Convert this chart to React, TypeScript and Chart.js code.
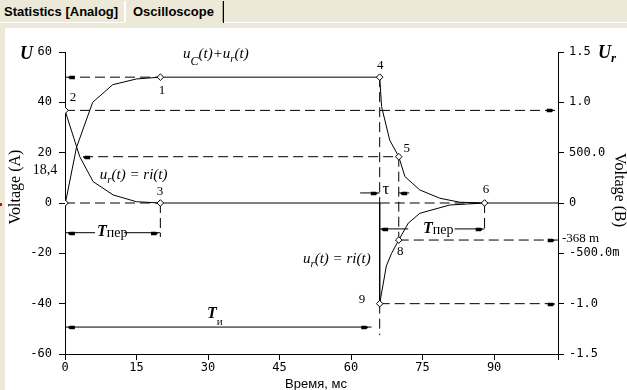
import React, { useEffect, useRef } from "react";
import { Chart, registerables } from "chart.js";

Chart.register(...registerables);

// ---------- axes ----------
const xMin = 0;
const xMax = 103.4;
const xStep = 15;
const yLeftTicks = [60, 40, 20, 0, -20, -40, -60];
const yRightTickValues = [1.5, 1, 0.5, 0, -0.5, -1, -1.5];
const yRightTickLabels = ["1.5", "1.0", "500.0", "0", "-500.0m", "-1.0", "-1.5"];

// ---------- u_C(t)+u_r(t) ----------
const sumT = [0, 0.3, 2.4, 5.8, 10, 15, 20, 66, 66.4, 68.1, 70, 71.3, 74.4, 78.6, 82.8, 88, 103.4];
const sumU = [0, 2, 22, 40, 47, 49.3, 50, 50, 38.3, 25, 18.4, 10.5, 5.2, 1.9, 0.3, 0, 0];

// ---------- u_r(t) = ri(t) ----------
const urT = [0, 3.1, 5.9, 10.1, 15, 20, 66, 66, 67.4, 68.5, 70, 72, 74.4, 80.7, 88];
const urU = [36.8, 18.4, 8.5, 3.2, 0.5, 0, 0, -40, -25, -20, -14.72, -8, -4.1, -0.8, 0];

// ---------- marked points (diamonds) ----------
const markT = [0, 0, 20, 20, 66, 70, 88, 70, 66];
const markU = [0, 36.8, 50, 0, 50, 18.4, 0, -14.72, -40];
const markLabels = ["", "2", "1", "3", "4", "5", "6", "8", "9"];

// ---------- dashed guide lines [t1, u1, t2, u2] ----------
const dashedLines = [
  [0, 50, 20, 50],
  [0, 36.8, 103.4, 36.8],
  [3.8, 18.4, 70, 18.4],
  [0, 0, 20, 0],
  [66, 0, 88, 0],
  [70, -14.72, 103.4, -14.72],
  [66, -40, 103.4, -40],
  [20, 0, 20, -13.5],
  [66, 50, 66, 0],
  [66, -40, 66, -52.5],
  [70, 18.4, 70, -14.72],
  [88, 0, 88, -12],
];

// ---------- solid dimension lines [t1, u1, t2, u2] ----------
const dimLines = [
  [0, -11.8, 6.3, -11.8],
  [12.4, -11.8, 20, -11.8],
  [66, -10.3, 72, -10.3],
  [81.7, -10.3, 88, -10.3],
  [0, -49.3, 64.3, -49.3],
  [61.9, 4, 66, 4],
  [70, 4, 72.2, 4],
];

// ---------- arrow heads [t, u, direction] ----------
const arrowHeads = [
  [0.6, 50, -1],
  [3.8, 18.4, -1],
  [102.5, 36.8, 1],
  [102.7, -14.72, 1],
  [102.7, -40, 1],
  [0.6, -11.8, -1],
  [19.5, -11.8, 1],
  [66.3, -10.3, -1],
  [87.6, -10.3, 1],
  [0.6, -49.3, -1],
  [63.6, -49.3, 1],
  [65.6, 4, 1],
  [70.3, 4, -1],
];

const SERIF = '"Liberation Serif", "Times New Roman", serif';
const MONO = '"DejaVu Sans Mono", monospace';

type Run = { text: string; font: string; dy?: number };

function drawRuns(ctx: CanvasRenderingContext2D, x: number, y: number, runs: Run[]) {
  let cx = x;
  for (const r of runs) {
    ctx.font = r.font;
    ctx.fillText(r.text, cx, y + (r.dy || 0));
    cx += ctx.measureText(r.text).width;
  }
}

const it15 = `italic 15px ${SERIF}`;
const it11 = `italic 11px ${SERIF}`;

const annotationPlugin = {
  id: "annotations",
  afterDraw(chart: any) {
    const ctx: CanvasRenderingContext2D = chart.ctx;
    const xs = chart.scales.x;
    const ys = chart.scales.y;
    const X = (v: number) => xs.getPixelForValue(v);
    const Y = (v: number) => ys.getPixelForValue(v);
    const area = chart.chartArea;
    ctx.save();
    ctx.fillStyle = "#000";

    // arrow heads
    for (const [t, u, d] of arrowHeads) {
      const px = X(t);
      const py = Math.round(Y(u)) + 0.5;
      ctx.beginPath();
      ctx.moveTo(px, py);
      ctx.lineTo(px - d * 2, py - 1.8);
      ctx.lineTo(px - d * 7, py - 1.8);
      ctx.lineTo(px - d * 7, py + 1.8);
      ctx.lineTo(px - d * 2, py + 1.8);
      ctx.closePath();
      ctx.fill();
    }

    // point numbers
    ctx.textAlign = "center";
    ctx.textBaseline = "middle";
    ctx.font = `13px ${SERIF}`;
    const numOffsets: Record<string, [number, number]> = {
      "1": [0.35, -5.5],
      "2": [1.7, 4.9],
      "3": [-0.1, 4.4],
      "4": [0.1, 4.8],
      "5": [1.7, 3.1],
      "6": [0.3, 5.2],
      "8": [0.3, -4.4],
      "9": [-3.7, 1.5],
    };
    markLabels.forEach((lab, i) => {
      if (!lab) return;
      const o = numOffsets[lab];
      ctx.fillText(lab, X(markT[i] + o[0]), Y(markU[i] + o[1]));
    });

    // 18,4
    ctx.textAlign = "right";
    ctx.font = `14px ${SERIF}`;
    ctx.fillText("18,4", X(-1.6), Y(13.1));

    // -368 m near right axis
    ctx.textAlign = "left";
    ctx.font = `13px ${SERIF}`;
    ctx.fillText("-368 m", area.right + 4, Y(-14.3));

    // tau
    ctx.textAlign = "center";
    ctx.font = `17px ${SERIF}`;
    ctx.fillText("τ", X(67.3), Y(5.2));

    // rich labels
    ctx.textAlign = "left";
    ctx.textBaseline = "alphabetic";
    drawRuns(ctx, X(24.75), Y(57.6), [
      { text: "u", font: it15 },
      { text: "C", font: `italic 12px ${SERIF}`, dy: 7 },
      { text: "(t)+", font: it15 },
      { text: "u", font: it15 },
      { text: "r", font: it11, dy: 4 },
      { text: "(t)", font: it15 },
    ]);
    drawRuns(ctx, X(7.3), Y(9.5), [
      { text: "u", font: it15 },
      { text: "r", font: it11, dy: 4 },
      { text: "(t) = ri(t)", font: it15 },
    ]);
    drawRuns(ctx, X(49.9), Y(-23.8), [
      { text: "u", font: it15 },
      { text: "r", font: it11, dy: 4 },
      { text: "(t) = ri(t)", font: it15 },
    ]);
    drawRuns(ctx, X(6.7), Y(-13.3), [
      { text: "T", font: `bold italic 16px ${SERIF}` },
      { text: "пер", font: `14px ${SERIF}`, dy: 1 },
    ]);
    drawRuns(ctx, X(75.1), Y(-11.9), [
      { text: "T", font: `bold italic 16px ${SERIF}` },
      { text: "пер", font: `14px ${SERIF}`, dy: 1 },
    ]);
    drawRuns(ctx, X(29.8), Y(-45.7), [
      { text: "T", font: `bold italic 16px ${SERIF}` },
      { text: "и", font: `11px ${SERIF}`, dy: 7 },
    ]);

    // axis symbols
    drawRuns(ctx, area.left - 45, area.top + 7, [{ text: "U", font: `bold italic 18px ${SERIF}` }]);
    drawRuns(ctx, area.right + 40, area.top + 6, [
      { text: "U", font: `bold italic 18px ${SERIF}` },
      { text: "r", font: `bold italic 13px ${SERIF}`, dy: 4 },
    ]);

    // axis titles
    ctx.font = `16px ${SERIF}`;
    ctx.textAlign = "center";
    ctx.textBaseline = "middle";
    ctx.save();
    ctx.translate(11, 159);
    ctx.rotate(-Math.PI / 2);
    ctx.fillText("Voltage (A)", 0, 0);
    ctx.restore();
    ctx.save();
    ctx.translate(614, 162);
    ctx.rotate(Math.PI / 2);
    ctx.fillText("Voltage (B)", 0, 0);
    ctx.restore();

    ctx.font = `13px "Liberation Sans", Arial, sans-serif`;
    ctx.textBaseline = "alphabetic";
    ctx.fillText("Время, мс", 311, 360);

    ctx.restore();
  },
};

function lineDataset(points: { x: number; y: number }[], dash: number[]) {
  return {
    type: "scatter" as const,
    data: points,
    showLine: true,
    borderColor: "#000",
    borderWidth: 1,
    borderDash: dash,
    pointRadius: 0,
    tension: 0,
    fill: false,
    yAxisID: "y",
  };
}

export default function App() {
  const ref = useRef<HTMLCanvasElement>(null);

  useEffect(() => {
    if (!ref.current) return;
    const tickFont = { family: MONO, size: 12 };
    const datasets: any[] = [];
    datasets.push({
      type: "scatter",
      data: markT.map((t, i) => ({ x: t, y: markU[i] })),
      showLine: false,
      pointStyle: "rectRot",
      pointRadius: 3.3,
      pointBackgroundColor: "#fff",
      pointBorderColor: "#000",
      pointBorderWidth: 1,
      yAxisID: "y",
    });
    datasets.push(lineDataset(sumT.map((t, i) => ({ x: t, y: sumU[i] })), []));
    datasets.push(lineDataset(urT.map((t, i) => ({ x: t, y: urU[i] })), []));
    for (const [a, b, c, d] of dimLines) {
      datasets.push(lineDataset([{ x: a, y: b }, { x: c, y: d }], []));
    }
    for (const [a, b, c, d] of dashedLines) {
      datasets.push(lineDataset([{ x: a, y: b }, { x: c, y: d }], [10, 5]));
    }

    const chart = new Chart(ref.current, {
      type: "scatter",
      data: { datasets },
      options: {
        animation: false,
        responsive: false,
        maintainAspectRatio: false,
        events: [],
        layout: { padding: { top: 24, left: 0, right: 0, bottom: 0 } },
        plugins: { legend: { display: false }, tooltip: { enabled: false } },
        scales: {
          x: {
            type: "linear",
            position: "bottom",
            min: xMin,
            max: xMax,
            ticks: {
              stepSize: xStep,
              autoSkip: false,
              maxRotation: 0,
              padding: 1,
              color: "#000",
              font: tickFont,
              callback: (v: any) => (Math.abs(Number(v) % xStep) < 1e-6 ? String(v) : ""),
            },
            grid: { drawOnChartArea: false, drawTicks: true, tickLength: 6, color: "#000" },
            border: { color: "#000" },
            afterFit: (s: any) => {
              s.height = 36;
            },
          },
          y: {
            type: "linear",
            position: "left",
            min: -60,
            max: 60,
            ticks: {
              stepSize: 20,
              padding: 7,
              color: "#000",
              font: tickFont,
              callback: (v: any) => (yLeftTicks.includes(Number(v)) ? String(v) : ""),
            },
            grid: { drawOnChartArea: false, drawTicks: true, tickLength: 6, color: "#000" },
            border: { color: "#000" },
            afterFit: (s: any) => {
              s.width = 60;
            },
          },
          y2: {
            type: "linear",
            position: "right",
            min: -1.5,
            max: 1.5,
            ticks: {
              stepSize: 0.5,
              padding: 5,
              color: "#000",
              font: tickFont,
              callback: (v: any) => {
                const i = yRightTickValues.findIndex((t) => Math.abs(t - Number(v)) < 1e-6);
                return i >= 0 ? yRightTickLabels[i] : "";
              },
            },
            grid: { drawOnChartArea: false, drawTicks: true, tickLength: 6, color: "#000" },
            border: { color: "#000" },
            afterFit: (s: any) => {
              s.width = 69;
            },
          },
        },
      } as any,
      plugins: [annotationPlugin],
    });
    return () => chart.destroy();
  }, []);

  const tabFont: React.CSSProperties = {
    position: "absolute",
    top: 4,
    fontFamily: '"Liberation Sans", Arial, sans-serif',
    fontWeight: "bold",
    fontSize: 13,
    color: "#000",
    whiteSpace: "nowrap",
    lineHeight: "16px",
  };

  return (
    <div
      style={{
        position: "fixed",
        left: 0,
        top: 0,
        width: 627,
        height: 390,
        overflow: "hidden",
        background: "#ECE9D8",
      }}
    >
      <div style={{ ...tabFont, left: 4 }}>Statistics [Analog]</div>
      <div style={{ position: "absolute", left: 124, top: 1, width: 2, height: 21, background: "#fff" }} />
      <div style={{ ...tabFont, left: 133 }}>Oscilloscope</div>
      <div style={{ position: "absolute", left: 222, top: 1, width: 1, height: 21, background: "#ACA899" }} />
      <div style={{ position: "absolute", left: 223, top: 1, width: 1, height: 22, background: "#000" }} />
      <div style={{ position: "absolute", left: 0, top: 22, width: 124, height: 1, background: "#fff" }} />
      <div style={{ position: "absolute", left: 224, top: 22, width: 403, height: 1, background: "#fff" }} />
      <div style={{ position: "absolute", left: 0, top: 203, width: 2, height: 3, background: "#e00" }} />
      <div style={{ position: "absolute", left: 5, top: 28, width: 622, height: 362, background: "#fff" }}>
        <canvas ref={ref} width={622} height={362} style={{ display: "block", width: 622, height: 362 }} />
      </div>
    </div>
  );
}
